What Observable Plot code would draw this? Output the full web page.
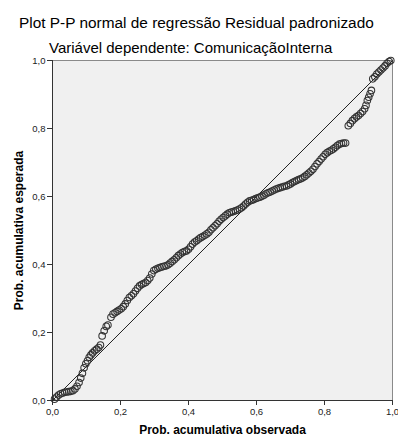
<!DOCTYPE html>
<html>
<head>
<meta charset="utf-8">
<script src="https://cdn.jsdelivr.net/npm/d3@7"></script>
<script src="https://cdn.jsdelivr.net/npm/@observablehq/plot@0.6"></script>
<style>
  html, body { margin: 0; padding: 0; background: #ffffff; }
  #wrap { position: relative; width: 398px; height: 441px; overflow: hidden; font-family: "Liberation Sans", Arial, sans-serif; }
  .ttl { position: absolute; white-space: nowrap; color: #000; line-height: 1; }
  #chart { position: absolute; left: 0; top: 0; }
  #chart svg text { font-family: "Liberation Sans", Arial, sans-serif; }
  g[aria-label="x-axis label"] text, g[aria-label="y-axis label"] text { font-weight: bold; font-size: 12px; fill: #000; }
</style>
</head>
<body>
<div id="wrap">
  <div id="chart"></div>
  <div class="ttl" id="title" style="left:19px; top:15px; font-size:15.4px;">Plot P-P normal de regressão Residual padronizado</div>
  <div class="ttl" id="subtitle" style="left:49px; top:40px; font-size:15px;">Variável dependente: ComunicaçãoInterna</div>
</div>
<script>
const observed = [
  0.006,0.012,0.018,0.024,0.030,0.036,0.042,0.048,0.054,0.060,0.066,
  0.072,0.078,0.083,0.088,0.093,0.098,0.103,0.108,0.113,0.118,0.124,0.130,0.136,0.141,
  0.146,0.152,0.158,0.163,0.172,
  0.178,0.184,0.190,0.196,0.202,0.208,0.214,0.220,0.226,0.232,0.238,0.244,0.250,0.256,0.262,0.268,0.274,0.280,0.286,0.292,0.298,0.304,0.310,0.316,0.322,0.328,
  0.334,0.340,0.346,0.352,0.358,0.364,0.370,0.376,0.382,0.388,0.394,0.400,0.406,0.412,0.418,0.424,0.430,0.436,0.442,0.448,0.454,0.460,0.466,0.472,0.478,0.484,0.490,0.496,0.502,0.508,0.514,0.520,
  0.526,0.532,0.538,0.544,0.550,0.556,0.562,0.568,0.574,0.580,0.586,0.592,0.598,0.604,0.610,0.616,0.622,0.628,0.634,0.640,0.646,0.652,0.658,0.664,0.670,0.676,0.682,0.688,0.694,0.700,0.706,0.712,
  0.718,0.724,0.730,0.736,0.742,0.748,0.754,0.760,0.766,0.772,0.778,0.784,0.790,0.796,0.802,0.808,0.814,0.820,0.826,0.832,0.838,0.844,0.850,0.856,0.862,
  0.870,0.876,0.882,0.888,0.894,0.900,0.906,0.912,0.918,0.922,0.926,0.930,0.934,0.938,
  0.942,0.948,0.954,0.960,0.966,0.972,0.978,0.984,0.990,0.995
];
const expected = [
  0.004,0.010,0.016,0.020,0.022,0.024,0.025,0.026,0.027,0.029,0.034,
  0.042,0.053,0.066,0.080,0.096,0.108,0.117,0.127,0.134,0.140,0.146,0.151,0.156,0.163,
  0.190,0.205,0.218,0.222,0.245,
  0.254,0.258,0.262,0.266,0.270,0.276,0.284,0.294,0.303,0.308,0.314,0.322,0.330,0.337,0.341,0.344,0.347,0.353,0.360,0.372,0.382,0.386,0.389,0.391,0.393,0.395,
  0.396,0.399,0.404,0.409,0.414,0.420,0.426,0.431,0.435,0.438,0.440,0.445,0.452,0.460,0.466,0.470,0.475,0.479,0.482,0.486,0.490,0.495,0.502,0.508,0.514,0.520,0.527,0.533,0.538,0.543,0.548,0.552,
  0.554,0.556,0.558,0.560,0.563,0.567,0.572,0.578,0.583,0.587,0.589,0.591,0.594,0.596,0.598,0.601,0.604,0.608,0.611,0.613,0.616,0.619,0.622,0.624,0.626,0.628,0.630,0.631,0.634,0.637,0.641,0.644,
  0.647,0.650,0.652,0.655,0.659,0.664,0.669,0.674,0.680,0.688,0.696,0.703,0.710,0.717,0.724,0.729,0.733,0.736,0.740,0.745,0.750,0.754,0.756,0.757,0.757,
  0.808,0.815,0.823,0.829,0.834,0.838,0.844,0.850,0.858,0.868,0.882,0.892,0.902,0.912,
  0.946,0.952,0.960,0.966,0.972,0.978,0.984,0.992,0.997,1.000
];
const refX = [0, 1];
const refY = [0, 1];
const ticks = [0, 0.2, 0.4, 0.6, 0.8, 1.0];
const tickLabels = ["0,0", "0,2", "0,4", "0,6", "0,8", "1,0"];
const xLabel = "Prob. acumulativa observada";
const yLabel = "Prob. acumulativa esperada";

const points = observed.map((x, i) => ({x, y: expected[i]}));
const refLine = refX.map((x, i) => ({x, y: refY[i]}));
const fmt = d => tickLabels[ticks.findIndex(t => Math.abs(t - d) < 1e-9)];

const chart = Plot.plot({
  width: 398,
  height: 441,
  marginTop: 60,
  marginLeft: 52,
  marginRight: 6,
  marginBottom: 41,
  style: {background: "transparent", fontSize: "9.5px", color: "#222", overflow: "visible"},
  x: {domain: [0, 1], ticks: ticks, tickFormat: fmt},
  y: {domain: [0, 1], ticks: ticks, tickFormat: fmt},
  marks: [
    Plot.frame({fill: "#f0f0f0", stroke: "#8a8a8a"}),
    Plot.ruleX([0], {stroke: "#333"}),
    Plot.ruleY([0], {stroke: "#333"}),
    Plot.axisX({ticks: ticks, tickFormat: fmt, tickSize: 5, tickPadding: 3, stroke: "#333", fill: "#222", label: xLabel, labelAnchor: "center", labelOffset: 33, labelArrow: "none"}),
    Plot.axisY({ticks: ticks, tickFormat: fmt, tickSize: 5, tickPadding: 2, stroke: "#333", fill: "#222", label: yLabel, labelAnchor: "center", labelOffset: 38, labelArrow: "none"}),
    Plot.line(refLine, {x: "x", y: "y", stroke: "#222", strokeWidth: 1}),
    Plot.dot(points, {x: "x", y: "y", r: 3.3, stroke: "#333", strokeWidth: 1.05, fill: "none"})
  ]
});
document.getElementById("chart").appendChild(chart);
</script>
</body>
</html>
